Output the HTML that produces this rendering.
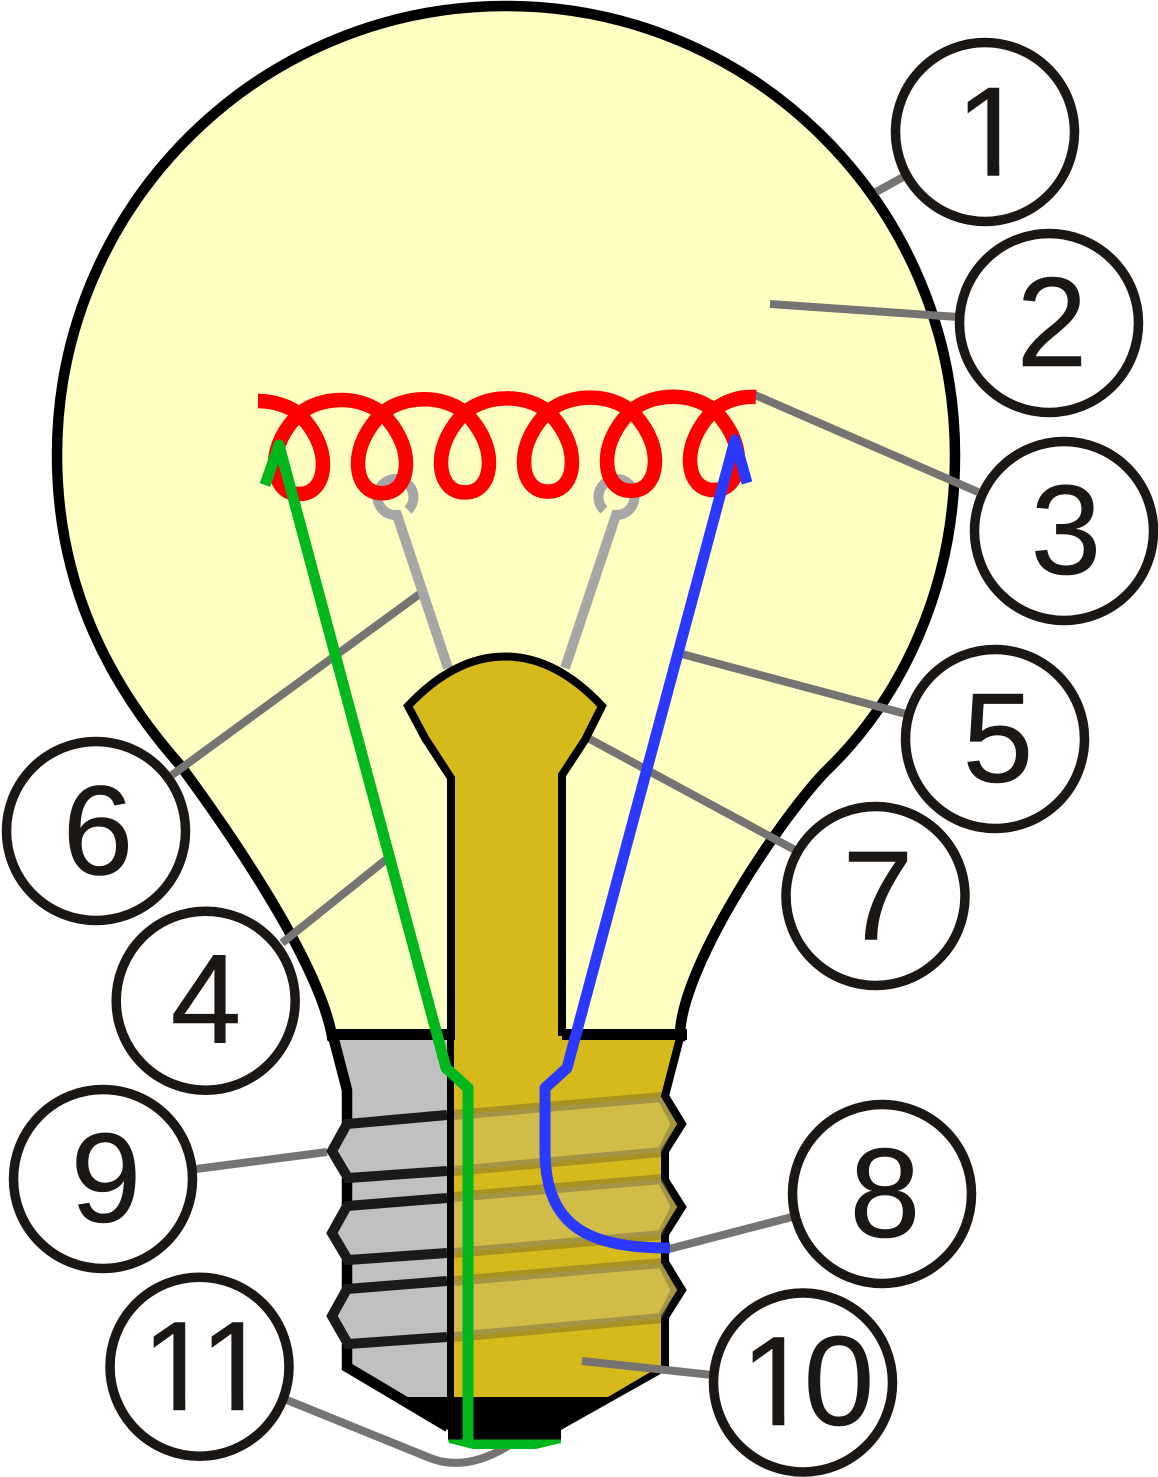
<!DOCTYPE html>
<html><head><meta charset="utf-8"><style>
html,body{margin:0;padding:0;background:#fff}
svg{display:block}
text{font-family:"Liberation Sans",sans-serif;font-size:127px;fill:#1a1715;stroke:#1a1715;stroke-width:.6;text-anchor:middle}
.c{fill:#fff;stroke:#1a1715;stroke-width:9.5}
.l{stroke:#767472;stroke-width:8;fill:none}
.tg{fill:none;stroke:#1a1a1a;stroke-width:10}
.tf{fill:rgba(200,195,160,.35)}
.tr{fill:none;stroke:rgba(30,30,50,.25);stroke-width:10}
</style></head><body>
<svg width="1158" height="1477" viewBox="0 0 1158 1477" xmlns="http://www.w3.org/2000/svg">
<!-- bulb -->
<path d="M332 1036C318 960 228 830 180 765C105 680 57 580 57 455C57 207 258 6 506 6C754 6 955 207 955 455C955 590 900 700 825 772C775 825 680 970 680 1036Z" fill="#ffffc2" stroke="#000" stroke-width="10.500"/>
<!-- leaders behind -->
<path class="l" d="M876 192L905 176M770 304L958 317M755 395L978 492M678 653L906 714M421 593L172 775M388 858L282 943M586 737L795 850M669 1249L792 1217M196 1169L327 1152"/>
<path class="l" d="M287 1400L430 1458Q465 1472 508 1446"/>
<!-- supports -->
<path d="M448 668L397 515A18 18 0 1 1 408 510" fill="none" stroke="#a6a6a6" stroke-width="10"/>
<path d="M565 668L616 515A18 18 0 1 0 604 510" fill="none" stroke="#a6a6a6" stroke-width="10"/>
<!-- coil -->
<path fill="none" stroke="#ff0000" stroke-width="14.5" d="M258 401c15 0 31 5 41 13
c14 14 24 32 24 50c0 17-8 30-24 30c-16 0-24-13-24-30c0-18 10-36 24-50c11-9 26-14 42-14c16 0 30 5 41 13.2
c14 14 24 32 24 50c0 17-8 30-24 30c-16 0-24-13-24-30c0-18 10-36 24-50c11-9 26-14 42-14c16 0 30 5 41 13.2
c14 14 24 32 24 50c0 17-8 30-24 30c-16 0-24-13-24-30c0-18 10-36 24-50c11-9 26-14 42-14c16 0 30 5 41 13.2
c14 14 24 32 24 50c0 17-8 30-24 30c-16 0-24-13-24-30c0-18 10-36 24-50c11-9 26-14 42-14c16 0 30 5 41 13.2
c14 14 24 32 24 50c0 17-8 30-24 30c-16 0-24-13-24-30c0-18 10-36 24-50c11-9 26-14 42-14c16 0 30 5 41 13.2
c14 14 24 32 24 50c0 17-8 30-24 30c-16 0-24-13-24-30c0-18 10-36 24-50c11-9 26-14 42-13"/>
<!-- base fill -->
<path d="M334 1038L347 1090V1125L332 1151L347 1178V1205L332 1233L347 1260V1288L332 1316L347 1344V1367L448 1427V1038Z" fill="#c0c0c0"/>
<path d="M450 1038H680L665 1096L680 1124L665 1150V1180L680 1207L665 1233V1262L680 1290L665 1316V1370L607 1402H450Z" fill="#d6b91b"/>
<!-- stem -->
<path d="M451 1040V778L425 738L408 706C470 640 540 640 602 706L585 740L562 775V1040Z" fill="#d6b91b"/>
<path d="M451 1040V778L425 738L408 706C470 640 540 640 602 706L585 740L562 775V1036" fill="none" stroke="#000" stroke-width="8"/>
<!-- base outline -->
<path d="M327 1034.500H451M562 1034.500H687" fill="none" stroke="#000" stroke-width="11"/>
<path d="M333.500 1038L347 1090V1125M347 1178V1205M347 1260V1288M347 1344V1367L448 1427" fill="none" stroke="#000" stroke-width="10.500"/>
<path d="M680 1038L665 1096L682 1124L665 1151V1180L682 1207L665 1234V1262L682 1290L665 1317V1372" fill="none" stroke="#000" stroke-width="8"/>
<path d="M450.500 1036V1400" stroke="#000" stroke-width="7" fill="none"/>
<!-- thread right (translucent) -->
<path class="tf" d="M454 1115L662 1097L676 1124L662 1152L454 1171Z"/>
<path class="tf" d="M454 1197L662 1179L676 1207L662 1235L454 1253Z"/>
<path class="tf" d="M454 1281L662 1263L676 1290L662 1318L454 1337Z"/>
<path class="tr" d="M454 1115L662 1097L676 1124L662 1152L454 1171"/>
<path class="tr" d="M454 1197L662 1179L676 1207L662 1235L454 1253"/>
<path class="tr" d="M454 1281L662 1263L676 1290L662 1318L454 1337"/>
<!-- thread left -->
<path class="tg" d="M447 1115L347 1124L332 1151L348 1178L447 1171"/>
<path class="tg" d="M447 1198L347 1206L332 1233L348 1260L447 1253"/>
<path class="tg" d="M447 1281L347 1289L332 1316L348 1344L447 1337"/>
<!-- bottom black -->
<path d="M346 1370L448 1430V1440H561V1430L664 1372V1364L608 1397H403L352 1364Z" fill="#000"/>
<!-- wires -->
<path d="M265 485L279 445L446 1068L468 1088V1442" fill="none" stroke="#00b81e" stroke-width="11" stroke-linejoin="round"/>
<path d="M448 1439.500H561V1443L536 1449H473L449 1443Z" fill="#00b81e"/>
<path d="M747 483L735 440L567 1068L545 1088V1150C545 1228 590 1248 670 1248" fill="none" stroke="#2b39ff" stroke-width="11" stroke-linejoin="round"/>
<path class="l" d="M582 1361L712 1375"/>
<!-- circles -->
<circle class="c" cx="985" cy="132" r="89.500"/><text x="991.100" y="175.500">1</text>
<rect x="950" y="165" width="37.400" height="12" fill="#fff"/><rect x="999.300" y="165" width="30" height="12" fill="#fff"/>
<circle class="c" cx="1049" cy="323" r="89.500"/><text x="1052" y="366">2</text>
<circle class="c" cx="1064" cy="531" r="89.500"/><text x="1066" y="574">3</text>
<circle class="c" cx="205.700" cy="1000.700" r="89.500"/><text x="206" y="1043">4</text>
<circle class="c" cx="995" cy="739" r="89.500"/><text x="998" y="782">5</text>
<circle class="c" cx="96" cy="831" r="89.500"/><text x="98" y="874.500">6</text>
<circle class="c" cx="875.500" cy="896" r="89.500"/><text x="878" y="939.300">7</text>
<circle class="c" cx="882" cy="1194" r="89.500"/><text x="885" y="1237">8</text>
<circle class="c" cx="103" cy="1179" r="89.500"/><text x="106" y="1222">9</text>
<circle class="c" cx="803" cy="1382.500" r="89.500"/><text x="776.100" y="1425">1</text><text x="839" y="1425">0</text>
<rect x="730" y="1414" width="42.400" height="13" fill="#fff"/><rect x="784.300" y="1414" width="22.200" height="13" fill="#fff"/>
<circle class="c" cx="199.500" cy="1366.700" r="89.500"/><text x="177.100" y="1410">1</text><text x="235.100" y="1410">1</text>
<rect x="135" y="1399" width="38.400" height="13" fill="#fff"/><rect x="185.300" y="1399" width="46.100" height="13" fill="#fff"/><rect x="243.300" y="1399" width="25" height="13" fill="#fff"/>
</svg>
</body></html>
